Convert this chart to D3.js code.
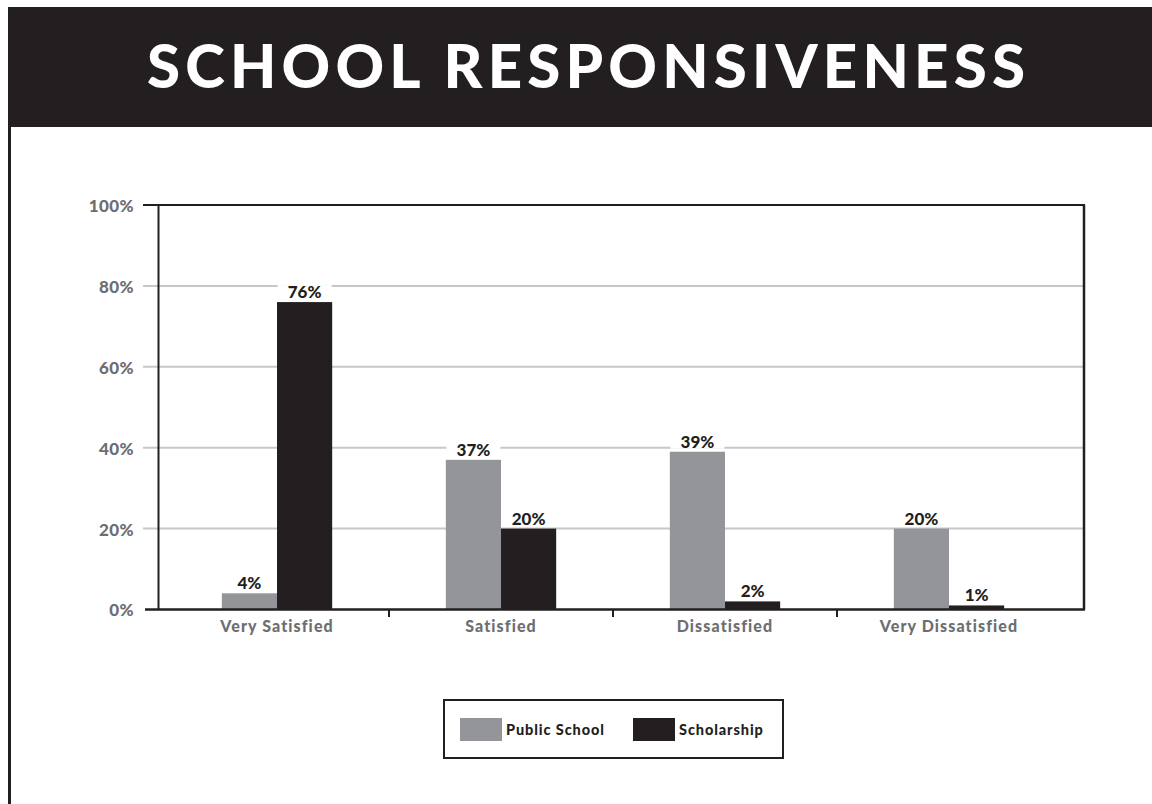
<!DOCTYPE html>
<html><head><meta charset="utf-8">
<script src="https://cdn.jsdelivr.net/npm/d3@7"></script>
<style>body{margin:0;background:#fff;} svg{display:block;}</style>
</head><body>
<svg id="chart" width="1152" height="804"></svg>
<script>
const title = "SCHOOL RESPONSIVENESS";
const categories = ["Very Satisfied", "Satisfied", "Dissatisfied", "Very Dissatisfied"];
const seriesNames = ["Public School", "Scholarship"];
const publicSchool = [4, 37, 39, 20];
const scholarship = [76, 20, 2, 1];
const yTicks = [0, 20, 40, 60, 80, 100];
const colors = ["#939598", "#231f20"];

(function () {
const svg = d3.select("#chart");
const dark = "#231f20";
const gray = "#6d6e71";

// banner
svg.append("rect").attr("x", 8).attr("y", 7).attr("width", 1144).attr("height", 120).attr("fill", dark);
svg.append("text").attr("x", 147).attr("y", 88)
  .attr("textLength", 878).attr("lengthAdjust", "spacing")
  .attr("fill", "#fff").style("font-family", "Lato, 'Open Sans', sans-serif")
  .style("font-weight", 900).style("font-size", "60px").text(title);
// left border
svg.append("rect").attr("x", 8).attr("y", 127).attr("width", 3).attr("height", 677).attr("fill", dark);

const pLeft = 158.5, pRight = 1084, pTop = 205, pBottom = 609.5;
const y = d3.scaleLinear().domain([0, 100]).range([pBottom, pTop]);
const x0 = d3.scaleBand().domain(categories).range([165, 1061]).paddingInner(0).paddingOuter(0);
const x1 = d3.scaleBand().domain(seriesNames).range([0, x0.bandwidth()]).paddingOuter(1.03);

// gridlines
svg.append("g").selectAll("line").data(yTicks.filter(t => t > 0 && t < 100)).join("line")
  .attr("x1", 143).attr("x2", pRight).attr("y1", d => y(d)).attr("y2", d => y(d))
  .attr("stroke", "#c6c7c9").attr("stroke-width", 2);
// top line
svg.append("line").attr("x1", 143).attr("x2", pRight + 1).attr("y1", pTop).attr("y2", pTop)
  .attr("stroke", dark).attr("stroke-width", 2);
// right border
svg.append("line").attr("x1", pRight).attr("x2", pRight).attr("y1", pTop).attr("y2", pBottom)
  .attr("stroke", dark).attr("stroke-width", 2.5);
// y axis line
svg.append("line").attr("x1", pLeft).attr("x2", pLeft).attr("y1", pTop).attr("y2", pBottom)
  .attr("stroke", dark).attr("stroke-width", 2);

// y tick labels
const yAxis = d3.axisLeft(y).tickValues(yTicks).tickFormat(d => d + "%").tickSize(0).tickPadding(0);
const gy = svg.append("g").attr("transform", `translate(134,0)`).call(yAxis);
gy.select(".domain").remove();
gy.selectAll("text").attr("fill", gray).attr("dy", "0.38em")
  .style("font-family", "Lato, sans-serif").style("font-weight", 900).style("font-size", "17px")
  .style("letter-spacing", "0.4px");

// bars
const data = categories.map((c, i) => ({cat: c, vals: [publicSchool[i], scholarship[i]]}));
const groups = svg.append("g").selectAll("g").data(data).join("g")
  .attr("transform", d => `translate(${x0(d.cat)},0)`);
groups.selectAll("rect").data(d => d.vals.map((v, j) => ({name: seriesNames[j], v, j}))).join("rect")
  .attr("x", d => x1(d.name)).attr("width", x1.bandwidth())
  .attr("y", d => y(d.v)).attr("height", d => pBottom - y(d.v))
  .attr("fill", d => colors[d.j]);

// value labels with white bg
const lab = groups.selectAll("g.lab").data(d => d.vals.map((v, j) => ({name: seriesNames[j], v, j}))).join("g").attr("class", "lab");
lab.append("rect")
  .attr("x", d => x1(d.name) + x1.bandwidth() / 2 - 27).attr("width", 54)
  .attr("y", d => y(d.v) - 17).attr("height", 14).attr("fill", "#fff");
lab.append("text")
  .attr("x", d => x1(d.name) + x1.bandwidth() / 2).attr("y", d => y(d.v) - 4)
  .attr("text-anchor", "middle").attr("fill", dark)
  .style("font-family", "Lato, sans-serif").style("font-weight", 900).style("font-size", "17px")
  .text(d => d.v + "%");

// x axis baseline
svg.append("line").attr("x1", 145).attr("x2", pRight + 1).attr("y1", pBottom).attr("y2", pBottom)
  .attr("stroke", dark).attr("stroke-width", 2.5);
// category separators
svg.append("g").selectAll("line").data(categories.slice(1)).join("line")
  .attr("x1", d => x0(d)).attr("x2", d => x0(d)).attr("y1", pBottom).attr("y2", 617)
  .attr("stroke", dark).attr("stroke-width", 2);
// category labels
const xAxis = d3.axisBottom(x0).tickSize(0).tickPadding(0);
const gx = svg.append("g").attr("transform", `translate(0,${pBottom})`).call(xAxis);
gx.select(".domain").remove();
gx.selectAll("text").attr("y", 22).attr("dy", 0).attr("fill", gray)
  .style("font-family", "Lato, sans-serif").style("font-weight", 900).style("font-size", "16px")
  .style("letter-spacing", "1.1px");

// legend
const lg = svg.append("g");
lg.append("rect").attr("x", 444).attr("y", 700).attr("width", 339).attr("height", 58)
  .attr("fill", "#fff").attr("stroke", dark).attr("stroke-width", 2);
const legendX = [460, 633];
const li = lg.selectAll("g").data(seriesNames).join("g")
  .attr("transform", (d, i) => `translate(${legendX[i]},718)`);
li.append("rect").attr("width", 42).attr("height", 23).attr("fill", (d, i) => colors[i]);
li.append("text").attr("x", 46).attr("y", 17).attr("fill", dark)
  .style("font-family", "Lato, sans-serif").style("font-weight", 900).style("font-size", "14.5px")
  .style("letter-spacing", "0.9px").text(d => d);
})();
</script>
</body></html>
